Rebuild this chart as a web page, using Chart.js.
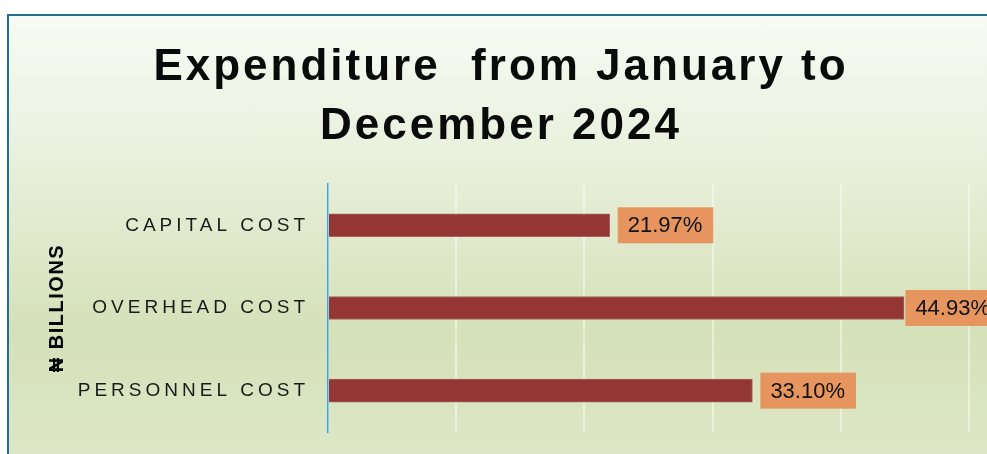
<!DOCTYPE html>
<html>
<head>
<meta charset="utf-8">
<script src="https://cdn.jsdelivr.net/npm/chart.js@4.4.1/dist/chart.umd.min.js"></script>
<style>
  html, body { margin: 0; padding: 0; background: #fff; }
  #wrap { position: relative; width: 987px; height: 454px; overflow: hidden; }
  #frame {
    position: absolute; left: 7px; top: 14px; right: 0; bottom: 0;
    border-top: 2px solid #22708f; border-left: 2px solid #22708f;
    background: linear-gradient(to bottom, #f8faf4 0%, #eaf1de 30%, #d5e1b9 72%, #dde7c7 100%);
  }
  canvas { position: absolute; left: 0; top: 0; }
</style>
</head>
<body>
<div id="wrap">
  <div id="frame"></div>
  <canvas id="chart" width="987" height="454"></canvas>
</div>
<script>
// expenditure shares, in percent
const categories = ["CAPITAL COST", "OVERHEAD COST", "PERSONNEL COST"];
const shares = [21.97, 44.93, 33.10];
const titleLines = ["Expenditure  from January to", "December 2024"];
const axisTitle = "₦ BILLIONS";

const FONT = '"Liberation Sans", Arial, "DejaVu Sans", sans-serif';

// run a draw method with canvas letterSpacing set
function spaced(obj, method, px) {
  const orig = obj[method];
  obj[method] = function (...args) {
    const ctx = this.ctx;
    const prev = ctx.letterSpacing;
    ctx.letterSpacing = px;
    orig.apply(this, args);
    ctx.letterSpacing = prev;
  };
}

const letterSpacing = {
  id: 'letterSpacing',
  afterLayout(chart) {
    if (chart._spaced) return;
    chart._spaced = true;
    spaced(chart.titleBlock, 'draw', '3px');
    spaced(chart.scales.y, 'drawTitle', '1.5px');
    spaced(chart.scales.y, 'drawLabels', '4px');
  }
};

// orange value box at the end of each bar, kept from running far past the plot
const valueBoxes = {
  id: 'valueBoxes',
  afterDatasetsDraw(chart) {
    const ctx = chart.ctx;
    const limit = chart.chartArea.right + 14;
    ctx.save();
    ctx.font = '22px ' + FONT;
    ctx.textBaseline = 'middle';
    ctx.textAlign = 'left';
    chart.getDatasetMeta(0).data.forEach((bar, i) => {
      const text = shares[i].toFixed(2) + '%';
      const w = ctx.measureText(text).width + 21;
      const h = 36;
      const x = Math.max(bar.x + 1, Math.min(bar.x + 8, limit - w));
      ctx.fillStyle = '#e6955f';
      ctx.fillRect(x, bar.y - h / 2, w, h);
      ctx.fillStyle = '#111';
      ctx.fillText(text, x + 10, bar.y + 1);
    });
    ctx.restore();
  }
};

new Chart(document.getElementById('chart'), {
  type: 'bar',
  data: {
    labels: categories,
    datasets: [{
      data: shares,
      backgroundColor: '#943634',
      borderColor: '#a9605a',
      borderWidth: 1,
      barThickness: 23
    }]
  },
  options: {
    indexAxis: 'y',
    responsive: false,
    animation: false,
    layout: { padding: { left: 15, right: 0, top: 0, bottom: 22 } },
    plugins: {
      legend: { display: false },
      tooltip: { enabled: false },
      title: {
        display: true,
        text: titleLines,
        color: '#0a0a0a',
        font: { family: FONT, size: 44, weight: 'bold', lineHeight: 1.34 },
        padding: { top: 38, bottom: 28 }
      }
    },
    scales: {
      x: {
        min: 0,
        max: 51.4,
        ticks: { display: false, stepSize: 10, includeBounds: false },
        grid: { color: 'rgba(255,255,255,0.45)', lineWidth: 2, drawTicks: false },
        border: { display: false }
      },
      y: {
        ticks: { padding: 19, color: '#1a1a1a', font: { family: FONT, size: 19 } },
        grid: { display: false, drawTicks: false },
        border: { display: true, color: '#2ea9f0', width: 1.5 },
        title: {
          display: true,
          text: axisTitle,
          color: '#000',
          font: { family: FONT, size: 20, weight: 'bold' },
          padding: { top: 30, bottom: 0 }
        },
        afterFit(scale) {
          scale.width = 313;
          // label padding should not shrink the plot vertically
          scale.paddingTop = 0;
          scale.paddingBottom = 0;
        }
      }
    }
  },
  plugins: [letterSpacing, valueBoxes]
});
</script>
</body>
</html>
